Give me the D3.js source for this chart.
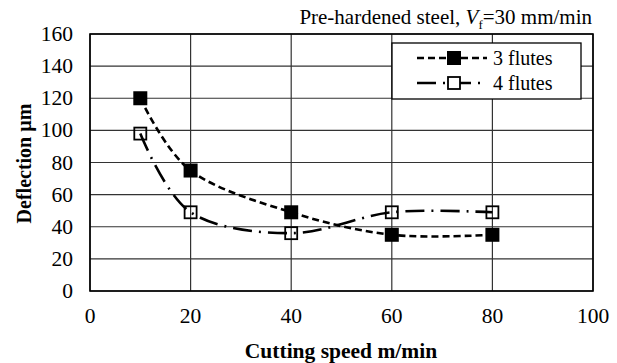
<!DOCTYPE html>
<html>
<head>
<meta charset="utf-8">
<script src="https://cdn.jsdelivr.net/npm/d3@7"></script>
<style>
  body { margin: 0; background: #fff; }
  svg text { font-family: "Liberation Serif", "Times New Roman", serif; fill: #000; }
</style>
</head>
<body>
<div id="chart"></div>
<script>
// chart data
const speeds = [10, 20, 40, 60, 80];
const flutes3 = [120, 75, 49, 35, 35];
const flutes4 = [98, 49, 36, 49, 49];
const seriesNames = ["3 flutes", "4 flutes"];
const xTicks = [0, 20, 40, 60, 80, 100];
const yTicks = [0, 20, 40, 60, 80, 100, 120, 140, 160];

const width = 617, height = 363;
const margin = { left: 90, right: 24, top: 34, bottom: 72 };

const svg = d3.select("#chart").append("svg")
	.attr("width", width)
	.attr("height", height);

const x = d3.scaleLinear().domain([0, 100]).range([margin.left, width - margin.right]);
const y = d3.scaleLinear().domain([0, 160]).range([height - margin.bottom, margin.top]);

// grid
svg.append("g")
	.selectAll("line")
	.data(yTicks)
	.join("line")
	.attr("x1", x(0)).attr("x2", x(100))
	.attr("y1", d => y(d)).attr("y2", d => y(d))
	.attr("stroke", "#333").attr("stroke-width", 1.2);

svg.append("g")
	.selectAll("line")
	.data(xTicks)
	.join("line")
	.attr("x1", d => x(d)).attr("x2", d => x(d))
	.attr("y1", y(0)).attr("y2", y(160))
	.attr("stroke", "#333").attr("stroke-width", 1.2);

// plot border
svg.append("rect")
	.attr("x", x(0)).attr("y", y(160))
	.attr("width", x(100) - x(0)).attr("height", y(0) - y(160))
	.attr("fill", "none").attr("stroke", "#000").attr("stroke-width", 1.6);

// tick labels
svg.append("g")
	.selectAll("text")
	.data(yTicks)
	.join("text")
	.attr("x", x(0) - 17)
	.attr("y", d => y(d) + 7)
	.attr("text-anchor", "end")
	.style("font-size", "21.5px")
	.text(d => d);

svg.append("g")
	.selectAll("text")
	.data(xTicks)
	.join("text")
	.attr("x", d => x(d))
	.attr("y", y(0) + 32)
	.attr("text-anchor", "middle")
	.style("font-size", "21.5px")
	.text(d => d);

// axis titles
svg.append("text")
	.attr("transform", `translate(31,${(y(0) + y(160)) / 2 + 1}) rotate(-90)`)
	.attr("text-anchor", "middle")
	.style("font-size", "20px")
	.style("font-weight", "bold")
	.text("Deflection µm");

svg.append("text")
	.attr("x", 341)
	.attr("y", 358)
	.attr("text-anchor", "middle")
	.style("font-size", "21.5px")
	.style("font-weight", "bold")
	.text("Cutting speed m/min");

// header note
const note = svg.append("text")
	.attr("x", x(100) - 1)
	.attr("y", 24)
	.attr("text-anchor", "end")
	.style("font-size", "21px");
note.append("tspan").text("Pre-hardened steel, ");
note.append("tspan").style("font-style", "italic").text("V");
note.append("tspan").attr("dy", 5).style("font-size", "13px").text("f");
note.append("tspan").attr("dy", -5).text("=30 mm/min");

// lines
const line = d3.line()
	.x(d => x(d[0]))
	.y(d => y(d[1]))
	.curve(d3.curveCatmullRom.alpha(0));

const dash3 = "7,4";
const dash4 = "19,7,2,7";

svg.append("path")
	.datum(d3.zip(speeds, flutes3))
	.attr("d", line)
	.attr("fill", "none").attr("stroke", "#000")
	.attr("stroke-width", 2.6).attr("stroke-dasharray", dash3);

svg.append("path")
	.datum(d3.zip(speeds, flutes4))
	.attr("d", line)
	.attr("fill", "none").attr("stroke", "#000")
	.attr("stroke-width", 2.6).attr("stroke-dasharray", dash4);

// markers
const sq = 14;
svg.append("g")
	.selectAll("rect")
	.data(d3.zip(speeds, flutes3))
	.join("rect")
	.attr("x", d => x(d[0]) - sq / 2)
	.attr("y", d => y(d[1]) - sq / 2)
	.attr("width", sq).attr("height", sq)
	.attr("fill", "#000");

svg.append("g")
	.selectAll("rect")
	.data(d3.zip(speeds, flutes4))
	.join("rect")
	.attr("x", d => x(d[0]) - (sq - 2) / 2)
	.attr("y", d => y(d[1]) - (sq - 2) / 2)
	.attr("width", sq - 2).attr("height", sq - 2)
	.attr("fill", "none").attr("stroke", "#000").attr("stroke-width", 1.8);

// legend
const lg = svg.append("g").attr("transform", "translate(392,43)");
lg.append("rect")
	.attr("width", 189).attr("height", 56)
	.attr("fill", "#fff").attr("stroke", "#000").attr("stroke-width", 1.3);

seriesNames.forEach((name, i) => {
	const cy = 15 + i * 25;
	lg.append("line")
		.attr("x1", 25).attr("x2", 95)
		.attr("y1", cy).attr("y2", cy)
		.attr("stroke", "#000").attr("stroke-width", 2.6)
		.attr("stroke-dasharray", i === 0 ? dash3 : dash4);
	if (i === 0) {
		lg.append("rect")
			.attr("x", 62 - sq / 2).attr("y", cy - sq / 2)
			.attr("width", sq).attr("height", sq)
			.attr("fill", "#000");
	} else {
		lg.append("rect")
			.attr("x", 62 - (sq - 2) / 2).attr("y", cy - (sq - 2) / 2)
			.attr("width", sq - 2).attr("height", sq - 2)
			.attr("fill", "#fff").attr("stroke", "#000").attr("stroke-width", 1.8);
	}
	lg.append("text")
		.attr("x", 101).attr("y", cy + 7)
		.style("font-size", "20px")
		.text(name);
});
</script>
</body>
</html>
